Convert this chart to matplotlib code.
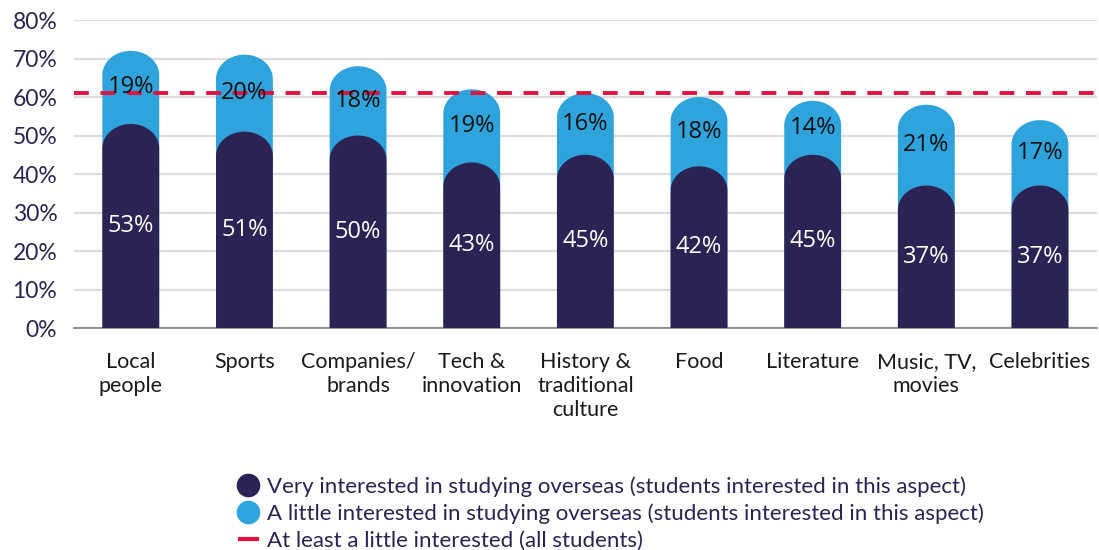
import numpy as np
import matplotlib
matplotlib.use("Agg")
import matplotlib.pyplot as plt
from matplotlib.path import Path
from matplotlib.patches import PathPatch
from matplotlib.lines import Line2D

categories = ["Local\npeople", "Sports", "Companies/\nbrands", "Tech &\ninnovation",
              "History &\ntraditional\nculture", "Food", "Literature",
              "Music, TV,\nmovies", "Celebrities"]
very_interested = [53, 51, 50, 43, 45, 42, 45, 37, 37]
little_interested = [19, 20, 18, 19, 16, 18, 14, 21, 17]
all_students = 61
yticks = [0, 10, 20, 30, 40, 50, 60, 70, 80]
legend_labels = ["Very interested in studying overseas (students interested in this aspect)",
                 "A little interested in studying overseas (students interested in this aspect)",
                 "At least a little interested (all students)"]

DARK = "#2a2353"
LIGHT = "#2ea3dc"
RED = "#e0123e"
NAVY_TXT = "#2a2353"

fig = plt.figure(figsize=(10.99, 5.5), dpi=100)
ax = fig.add_axes([0.0673, 0.4036, 0.9307, 0.56])

BAR_W = 0.5
CAP_H = 6.3


def rounded_bar(xc, top, w=BAR_W, h=CAP_H):
    th = np.linspace(np.pi, 0, 60)
    arc_x = xc + (w / 2) * np.cos(th)
    arc_y = (top - h) + h * np.sin(th)
    verts = [(xc - w / 2, 0)] + list(zip(arc_x, arc_y)) + [(xc + w / 2, 0), (xc - w / 2, 0)]
    codes = [Path.MOVETO] + [Path.LINETO] * (len(verts) - 2) + [Path.CLOSEPOLY]
    return PathPatch(Path(verts, codes), lw=0)


x = np.arange(len(categories))
for i in range(len(categories)):
    total = very_interested[i] + little_interested[i]
    p1 = rounded_bar(x[i], total)
    p1.set_facecolor(LIGHT)
    p1.set_zorder(2)
    ax.add_patch(p1)
    p2 = rounded_bar(x[i], very_interested[i])
    p2.set_facecolor(DARK)
    p2.set_zorder(3)
    ax.add_patch(p2)
    ax.text(x[i], very_interested[i] / 2, f"{very_interested[i]}%", ha="center", va="center",
            color="white", fontsize=17, family="Open Sans", zorder=5)
    ax.text(x[i], very_interested[i] + little_interested[i] / 2, f"{little_interested[i]}%",
            ha="center", va="center", color="#111111", fontsize=17, family="Open Sans", zorder=5)

ax.axhline(all_students, color=RED, lw=2.8, dashes=(3.8, 3.0), zorder=4)

ax.set_xlim(-0.5, len(categories) - 0.5)
ax.set_ylim(0, 80)
ax.set_yticks(yticks)
ax.set_yticklabels([f"{v}%" for v in yticks], family="Lato", fontsize=16.5, color=NAVY_TXT)
ax.set_xticks(x)
ax.set_xticklabels(categories, family="Lato", fontsize=15.5, color="#1a1a1a", linespacing=1.25)
ax.tick_params(axis="both", length=0)
ax.tick_params(axis="x", pad=17)
ax.tick_params(axis="y", pad=12)
for s in ["left", "right", "top"]:
    ax.spines[s].set_visible(False)
ax.spines["bottom"].set_color("#7f7f7f")
ax.spines["bottom"].set_linewidth(1.2)
ax.set_axisbelow(True)
ax.yaxis.grid(True, color="#dcdcdc", lw=1.6)
ax.xaxis.grid(False)

handles = [Line2D([], [], ls="none", marker="o", markersize=16, markerfacecolor=DARK, markeredgecolor=DARK),
           Line2D([], [], ls="none", marker="o", markersize=16, markerfacecolor=LIGHT, markeredgecolor=LIGHT),
           Line2D([], [], color=RED, lw=3)]
leg = fig.legend(handles, legend_labels, loc="upper left", bbox_to_anchor=(0.218, 0.134),
                 frameon=False, handlelength=0.8, handletextpad=0.45, labelspacing=0.3,
                 borderpad=0, borderaxespad=0,
                 prop={"family": "Lato", "size": 16})
for t in leg.get_texts():
    t.set_color(NAVY_TXT)

fig.savefig("out.png", dpi=100)
